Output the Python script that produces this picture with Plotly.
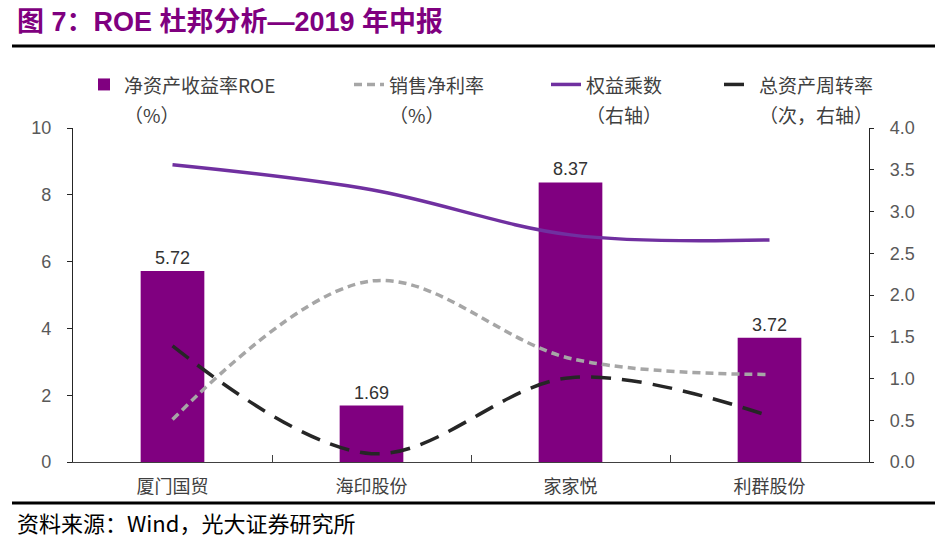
import plotly.graph_objects as go

categories = ["厦门国贸", "海印股份", "家家悦", "利群股份"]
roe = [5.72, 1.69, 8.37, 3.72]
net_margin = [1.27, 5.42, 3.10, 2.62]
equity_multiplier = [3.56, 3.26, 2.72, 2.66]
asset_turnover = [1.39, 0.10, 1.01, 0.55]

left_ticks = [0, 2, 4, 6, 8, 10]
right_ticks = [0, 0.5, 1.0, 1.5, 2.0, 2.5, 3.0, 3.5, 4.0]
right_tick_labels = ["0.0", "0.5", "1.0", "1.5", "2.0", "2.5", "3.0", "3.5", "4.0"]

CJK = "Noto Sans CJK SC, Liberation Sans, sans-serif"
NUM = "Liberation Sans, Arial, sans-serif"


def leg(line1, line2):
    s = "<span style='font-size:19px'>{}</span>"
    return s.format(line1) + "<br>" + s.format(line2)


fig = go.Figure()

fig.add_trace(go.Bar(
    x=categories, y=roe, name=leg("净资产收益率ROE", "（%）"),
    marker=dict(color="#800080", line=dict(width=0)),
    text=[f"{v:.2f}" for v in roe], textposition="outside",
    textfont=dict(family=NUM, size=18, color="#333333"),
    cliponaxis=False, legend="legend",
))
fig.add_trace(go.Scatter(
    x=categories, y=net_margin, name=leg("销售净利率", "（%）"), mode="lines",
    line=dict(color="#A6A6A6", width=3.5, dash="8px,5px", shape="spline"),
    legend="legend2",
))
fig.add_trace(go.Scatter(
    x=categories, y=equity_multiplier, name=leg("权益乘数", "（右轴）"), mode="lines",
    line=dict(color="#7030A0", width=3.5, shape="spline"),
    yaxis="y2", legend="legend3",
))
fig.add_trace(go.Scatter(
    x=categories, y=asset_turnover, name=leg("总资产周转率", "（次，右轴）"), mode="lines",
    line=dict(color="#262626", width=3.5, dash="20px,11px", shape="spline"),
    yaxis="y2", legend="legend4",
))

W, H = 943, 542
L, R, T, B = 73, 869, 128, 462


def px(xp):
    return xp / W


def py(yp):
    return 1 - yp / H


legend_common = dict(
    orientation="h", xref="paper", yref="paper",
    xanchor="left", yanchor="top", valign="top",
    font=dict(family=CJK, size=23, color="#404040"),
    bgcolor="rgba(0,0,0,0)", tracegroupgap=0,
)

LEG_TOP = 63

fig.update_layout(
    width=W, height=H,
    margin=dict(l=0, r=0, t=0, b=0, pad=0, autoexpand=False),
    paper_bgcolor="white", plot_bgcolor="white",
    bargap=0.68,
    showlegend=True,
    legend=dict(x=px(84), y=py(LEG_TOP), **legend_common),
    legend2=dict(x=px(349), y=py(LEG_TOP), **legend_common),
    legend3=dict(x=px(546), y=py(LEG_TOP), **legend_common),
    legend4=dict(x=px(719), y=py(LEG_TOP), **legend_common),
    xaxis=dict(
        domain=[px(L), px(R)],
        type="category", showline=True, linecolor="#404040", linewidth=1.3,
        ticks="inside", ticklen=7, tickcolor="#404040", tickson="boundaries",
        tickfont=dict(family=CJK, size=18, color="#404040"),
        ticklabelstandoff=8, showgrid=False, zeroline=False,
    ),
    yaxis=dict(
        domain=[py(B), py(T)],
        range=[0, 10], tickvals=left_ticks, showline=True, linecolor="#262626",
        linewidth=1.3, ticks="outside", ticklen=5, tickcolor="#262626",
        tickfont=dict(family=NUM, size=18, color="#595959"),
        ticklabelstandoff=12, showgrid=False, zeroline=False,
    ),
    yaxis2=dict(
        range=[0, 4], tickvals=right_ticks, ticktext=right_tick_labels,
        overlaying="y", side="right", anchor="x", showline=True, linecolor="#262626",
        linewidth=1.3, ticks="outside", ticklen=4, tickcolor="#262626",
        tickfont=dict(family=NUM, size=18, color="#595959"),
        ticklabelstandoff=12, showgrid=False, zeroline=False,
    ),
    shapes=[
        dict(type="line", xref="paper", yref="paper", x0=px(12), x1=px(935),
             y0=py(46), y1=py(46), line=dict(color="black", width=3), layer="above"),
        dict(type="line", xref="paper", yref="paper", x0=px(12), x1=px(935),
             y0=py(503), y1=py(503), line=dict(color="black", width=3), layer="above"),
    ],
    annotations=[
        dict(text="<b>图 7：ROE 杜邦分析—2019 年中报</b>", xref="paper", yref="paper",
             x=px(15), y=py(22), xanchor="left", yanchor="middle", showarrow=False,
             font=dict(family="Liberation Sans, Noto Sans CJK SC, sans-serif", size=27, color="#7F007F")),
        dict(text="资料来源：Wind，光大证券研究所", xref="paper", yref="paper",
             x=px(15), y=py(522), xanchor="left", yanchor="middle", showarrow=False,
             font=dict(family=CJK, size=22, color="#000000")),
    ],
)

fig.write_html("out.html", config={"displayModeBar": False},
               post_script="document.body.style.margin='0';")
